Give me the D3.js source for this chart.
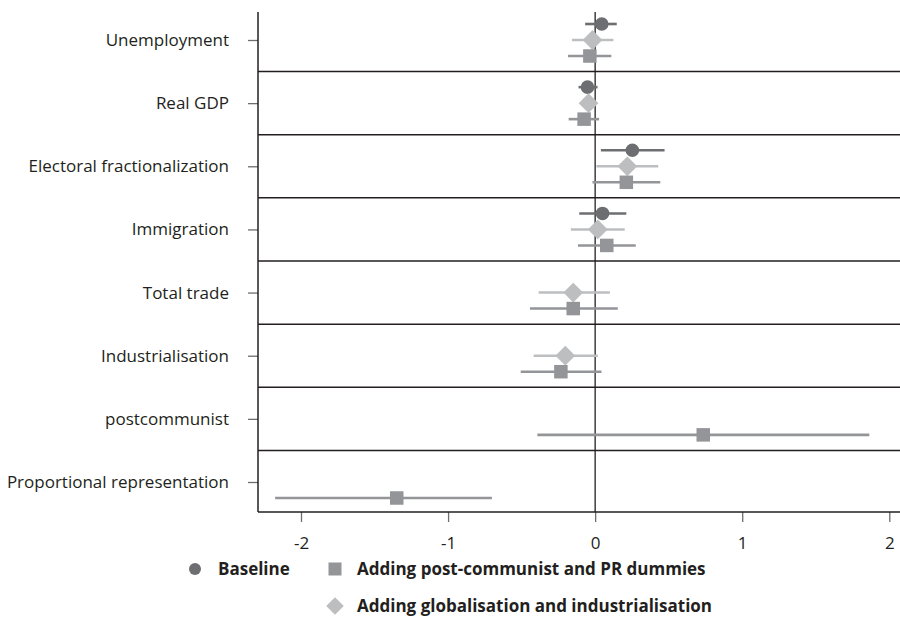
<!DOCTYPE html>
<html>
<head>
<meta charset="utf-8">
<script src="https://cdn.jsdelivr.net/npm/d3@7"></script>
<style>
  html, body { margin: 0; padding: 0; background: #fff; }
  svg { display: block; }
  text { font-family: "Open Sans", "Noto Sans", sans-serif; fill: #231f20; }
</style>
</head>
<body>
<svg id="chart" width="900" height="619"></svg>
<script>
// ---- Data ----
const categories = ["Unemployment", "Real GDP", "Electoral fractionalization", "Immigration",
  "Total trade", "Industrialisation", "postcommunist", "Proportional representation"];

// Baseline model (circle)
const baselineEst = [0.045, -0.052, 0.253, 0.050, null, null, null, null];
const baselineLo  = [-0.068, -0.113, 0.039, -0.108, null, null, null, null];
const baselineHi  = [0.147, 0.016, 0.472, 0.212, null, null, null, null];

// Adding globalisation and industrialisation (diamond)
const globalEst = [-0.018, -0.045, 0.219, 0.018, -0.149, -0.203, null, null];
const globalLo  = [-0.158, -0.085, 0.009, -0.165, -0.384, -0.418, null, null];
const globalHi  = [0.124, -0.005, 0.429, 0.201, 0.100, 0.018, null, null];

// Adding post-communist and PR dummies (square)
const dummyEst = [-0.036, -0.075, 0.212, 0.079, -0.149, -0.233, 0.735, -1.349];
const dummyLo  = [-0.185, -0.180, -0.018, -0.117, -0.443, -0.506, -0.393, -2.176];
const dummyHi  = [0.110, 0.027, 0.443, 0.276, 0.154, 0.043, 1.864, -0.702];

const xTicks = [-2, -1, 0, 1, 2];
const xTickLabels = ["-2", "-1", "0", "1", "2"];

const seriesNames = ["Baseline", "Adding post-communist and PR dummies", "Adding globalisation and industrialisation"];

// ---- Layout ----
const svg = d3.select("#chart");
const plotLeft = 258, plotRight = 900, plotTop = 12, plotBottom = 512;

const x = d3.scaleLinear().domain([-2, 2]).range([301, 889.3]);
const y = d3.scaleLinear().domain([0, categories.length - 1]).range([40, 482]);

const colors = { baseline: "#6d6e71", dummy: "#939598", global: "#bcbec0" };
const offsets = { baseline: -16, global: 0, dummy: 16 };

// separators
const sepIdx = d3.range(0, categories.length - 1).map(i => i + 0.5);
svg.append("g").selectAll("line").data(sepIdx).join("line")
  .attr("x1", plotLeft).attr("x2", plotRight)
  .attr("y1", d => y(d)).attr("y2", d => y(d))
  .attr("stroke", "#231f20").attr("stroke-width", 1.5);

// zero line
svg.append("line")
  .attr("x1", x(0)).attr("x2", x(0))
  .attr("y1", plotTop).attr("y2", plotBottom)
  .attr("stroke", "#231f20").attr("stroke-width", 1.3);

// Y axis
const yAxis = d3.axisLeft(d3.scalePoint().domain(categories).range([y(0), y(categories.length - 1)]))
  .tickSize(10).tickPadding(19);
const gy = svg.append("g").attr("transform", `translate(${plotLeft},0)`).call(yAxis);
gy.select(".domain").remove();
gy.append("line").attr("x1", 0).attr("x2", 0).attr("y1", plotTop).attr("y2", plotBottom)
  .attr("stroke", "#231f20").attr("stroke-width", 1.5);
gy.selectAll(".tick line").attr("stroke", "#6d6e71").attr("stroke-width", 1.3);
gy.selectAll(".tick text").attr("font-size", 17).attr("fill", "#231f20")
  .style("font-family", '"Open Sans", sans-serif');

// X axis
const xAxis = d3.axisBottom(x).tickValues(xTicks).tickFormat((d, i) => xTickLabels[i])
  .tickSize(10).tickPadding(15);
const gx = svg.append("g").attr("transform", `translate(0,${plotBottom})`).call(xAxis);
gx.select(".domain").remove();
gx.append("line").attr("x1", plotLeft).attr("x2", plotRight).attr("y1", 0).attr("y2", 0)
  .attr("stroke", "#231f20").attr("stroke-width", 1.5);
gx.selectAll(".tick line").attr("stroke", "#6d6e71").attr("stroke-width", 1.3);
gx.selectAll(".tick text").attr("font-size", 17).attr("fill", "#231f20")
  .style("font-family", '"Open Sans", sans-serif');

// series
function buildSeries(est, lo, hi) {
  return categories.map((c, i) => ({ i, est: est[i], lo: lo[i], hi: hi[i] })).filter(d => d.est !== null);
}
const series = [
  { key: "baseline", data: buildSeries(baselineEst, baselineLo, baselineHi), shape: "circle" },
  { key: "global", data: buildSeries(globalEst, globalLo, globalHi), shape: "diamond" },
  { key: "dummy", data: buildSeries(dummyEst, dummyLo, dummyHi), shape: "square" }
];

const symCircle = d3.symbol().type(d3.symbolCircle).size(Math.PI * 6.8 * 6.8);
const symSquare = d3.symbol().type(d3.symbolSquare).size(13.5 * 13.5);
const symDiamond = d3.symbol().type(d3.symbolSquare).size(14 * 14);

series.forEach(s => {
  const g = svg.append("g");
  const col = colors[s.key];
  const off = offsets[s.key];
  g.selectAll("line").data(s.data).join("line")
    .attr("x1", d => x(d.lo)).attr("x2", d => x(d.hi))
    .attr("y1", d => y(d.i) + off).attr("y2", d => y(d.i) + off)
    .attr("stroke", col).attr("stroke-width", 2.6);
  g.selectAll("path").data(s.data).join("path")
    .attr("d", s.shape === "circle" ? symCircle() : s.shape === "square" ? symSquare() : symDiamond())
    .attr("transform", d => `translate(${x(d.est)},${y(d.i) + off})` + (s.shape === "diamond" ? " rotate(45)" : ""))
    .attr("fill", col);
});

// legend
const legend = svg.append("g");
const legendItems = [
  { name: seriesNames[0], key: "baseline", shape: "circle", mx: 195, tx: 218, cy: 569 },
  { name: seriesNames[1], key: "dummy", shape: "square", mx: 335, tx: 357, cy: 569 },
  { name: seriesNames[2], key: "global", shape: "diamond", mx: 335, tx: 357, cy: 606 }
];
legendItems.forEach(it => {
  legend.append("path")
    .attr("d", it.shape === "circle" ? d3.symbol().type(d3.symbolCircle).size(Math.PI * 36)()
      : it.shape === "square" ? d3.symbol().type(d3.symbolSquare).size(13 * 13)()
      : d3.symbol().type(d3.symbolSquare).size(12.5 * 12.5)())
    .attr("transform", `translate(${it.mx},${it.cy})` + (it.shape === "diamond" ? " rotate(45)" : ""))
    .attr("fill", colors[it.key]);
  legend.append("text")
    .attr("x", it.tx).attr("y", it.cy).attr("dy", "0.35em")
    .attr("font-size", 17).attr("font-weight", "bold")
    .text(it.name);
});
</script>
</body>
</html>
